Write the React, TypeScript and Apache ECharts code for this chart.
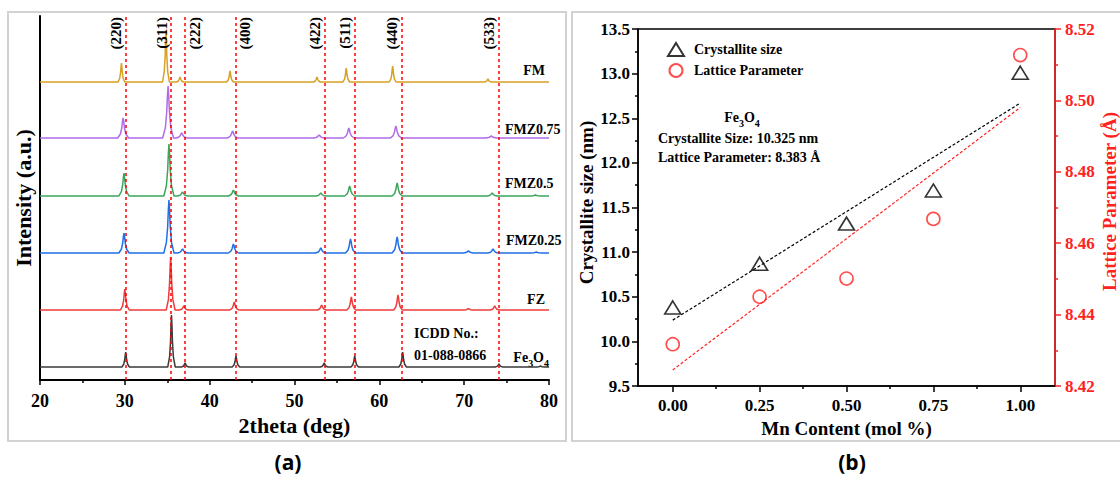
import React, { useEffect, useRef } from "react";
import * as echarts from "echarts";

// ---------- Panel (a): XRD patterns ----------
const SAMPLE_NAMES = ["Fe3O4", "FZ", "FMZ0.25", "FMZ0.5", "FMZ0.75", "FM"];
const SAMPLE_COLORS = ["#3a3a3a", "#ee3b3b", "#1f6fe5", "#3ba55c", "#b06be6", "#d6a125"];
// vertical offsets of each stacked pattern (a.u.)
const SAMPLE_OFFSETS = [13, 70, 127, 184, 242, 298];
// peak [2theta, height]
const PEAKS_FE3O4 = [[30.1, 15], [35.5, 52], [37.1, 4], [43.1, 11], [53.5, 4], [57.1, 11], [62.75, 15], [74.1, 3], [79.0, 1]];
const PEAKS_FZ = [[30.0, 21], [35.4, 53], [36.95, 4], [42.9, 8], [53.2, 5], [56.7, 13], [62.2, 15], [70.5, 1.5], [73.6, 4]];
const PEAKS_FMZ025 = [[29.9, 20], [35.2, 53], [36.8, 4], [42.8, 9], [53.1, 5], [56.6, 14], [62.1, 16], [70.5, 2], [73.4, 4], [78.5, 1]];
const PEAKS_FMZ05 = [[29.9, 23], [35.2, 52], [36.8, 4], [42.8, 6], [53.1, 3], [56.5, 10], [62.1, 13], [73.3, 3], [78.4, 1]];
const PEAKS_FMZ075 = [[29.8, 20], [35.1, 52], [36.7, 5], [42.7, 7], [52.9, 3], [56.4, 10], [61.95, 12], [73.2, 2]];
const PEAKS_FM = [[29.6, 19], [34.85, 52], [36.5, 5], [42.4, 11], [52.65, 5], [56.1, 14], [61.57, 16], [72.8, 3]];
const SAMPLE_PEAKS = [PEAKS_FE3O4, PEAKS_FZ, PEAKS_FMZ025, PEAKS_FMZ05, PEAKS_FMZ075, PEAKS_FM];
const SAMPLE_HWHM = [0.11, 0.13, 0.15, 0.15, 0.16, 0.1];
// reference (ICDD) reflections
const HKL_LABELS = ["(220)", "(311)", "(222)", "(400)", "(422)", "(511)", "(440)", "(533)"];
const HKL_POSITIONS = [30.1, 35.45, 37.1, 43.1, 53.55, 57.05, 62.65, 74.1];
const HKL_LABEL_RIGHT = [false, false, true, true, false, false, false, false];
const TWO_THETA_MIN = 20;
const TWO_THETA_MAX = 80;

// peak profile template (offset in HWHM units, fraction of peak height)
const SHAPE_OFFSETS = [-4, -2, -1, -0.5, 0, 0.5, 1, 2, 4];
const SHAPE_FRACTIONS = [0, 0.2, 0.5, 0.8, 1, 0.8, 0.5, 0.2, 0];

// ---------- Panel (b) ----------
const MN_CONTENT = [0, 0.25, 0.5, 0.75, 1.0];
const CRYSTALLITE_SIZE = [10.38, 10.87, 11.32, 11.69, 13.01];
const LATTICE_PARAM = [8.4317, 8.445, 8.4501, 8.4668, 8.5127];
const X_MAJOR = [0, 0.25, 0.5, 0.75, 1.0];
const X_MINOR = [0.125, 0.375, 0.625, 0.875];

const SERIF = '"Liberation Serif", "Times New Roman", serif';
const SANS = '"Open Sans", "Liberation Sans", sans-serif';

function buildPattern(peaks: number[][], base: number, hw: number) {
  const pts: number[][] = [[TWO_THETA_MIN, base]];
  peaks.forEach(([pos, h]) => {
    SHAPE_OFFSETS.forEach((o, k) => pts.push([pos + o * hw, base + SHAPE_FRACTIONS[k] * h]));
  });
  pts.push([TWO_THETA_MAX, base]);
  return pts;
}

function linFit(xs: number[], ys: number[]) {
  const n = xs.length;
  const mx = xs.reduce((a, b) => a + b, 0) / n;
  const my = ys.reduce((a, b) => a + b, 0) / n;
  let sxy = 0, sxx = 0;
  xs.forEach((x, i) => { sxy += (x - mx) * (ys[i] - my); sxx += (x - mx) * (x - mx); });
  const slope = sxy / sxx;
  const icpt = my - slope * mx;
  return [[xs[0], icpt + slope * xs[0]], [xs[n - 1], icpt + slope * xs[n - 1]]];
}

const subRich = {
  n: { fontSize: 14, fontWeight: "bold", fontFamily: SERIF, lineHeight: 16, verticalAlign: "top", fill: "#000" },
  s: { fontSize: 10, fontWeight: "bold", fontFamily: SERIF, lineHeight: 10, padding: [8, 0, 0, 0], verticalAlign: "top", fill: "#000" },
};

function txt(text: string, x: number, y: number, align: string, extra: any = {}) {
  return {
    type: "text",
    x,
    y,
    silent: true,
    style: {
      text,
      fontFamily: SERIF,
      fontWeight: "bold",
      fontSize: 14,
      fill: "#000",
      align,
      verticalAlign: "middle",
      ...extra,
    },
  };
}

export default function App() {
  const ref = useRef<HTMLDivElement>(null);
  useEffect(() => {
    if (!ref.current) return;
    const chart = echarts.init(ref.current, null, { renderer: "svg" });

    const patternSeries = SAMPLE_NAMES.map((name, i) => {
      const s: any = {
        name,
        type: "line",
        xAxisIndex: 0,
        yAxisIndex: 0,
        showSymbol: false,
        symbol: "none",
        data: buildPattern(SAMPLE_PEAKS[i], SAMPLE_OFFSETS[i], SAMPLE_HWHM[i]),
        lineStyle: { color: SAMPLE_COLORS[i], width: 1.5 },
        itemStyle: { color: SAMPLE_COLORS[i] },
        z: 3,
      };
      if (i === 0) {
        s.markLine = {
          silent: true,
          symbol: ["none", "none"],
          lineStyle: { color: "#ff0000", type: [3, 3], width: 1.5 },
          label: {
            show: true,
            position: "insideEndTop",
            formatter: "{b}",
            color: "#000",
            fontFamily: SERIF,
            fontWeight: "bold",
            fontSize: 15,
            distance: [1, 2],
          },
          data: HKL_POSITIONS.map((p, k) => ({
            xAxis: p,
            name: HKL_LABELS[k],
            label: { position: HKL_LABEL_RIGHT[k] ? "insideEndBottom" : "insideEndTop" },
          })),
        };
      }
      return s;
    });

    const fitSize = linFit(MN_CONTENT, CRYSTALLITE_SIZE);
    const fitLattice = linFit(MN_CONTENT, LATTICE_PARAM);

    const option: any = {
      animation: false,
      backgroundColor: "#fff",
      grid: [
        { left: 40, top: 16, width: 509, height: 364, show: false },
        { left: 638, top: 29, width: 421, height: 357, show: true, borderColor: "#000", borderWidth: 1.5 },
      ],
      legend: {
        orient: "vertical",
        left: 662,
        top: 37,
        itemWidth: 16,
        itemHeight: 13,
        itemGap: 6,
        textStyle: { fontFamily: SERIF, fontWeight: "bold", fontSize: 14, color: "#000", padding: [0, 0, 0, 5] },
        data: [
          { name: "Crystallite size", icon: "triangle" },
          { name: "Lattice Parameter", icon: "circle" },
        ],
      },
      xAxis: [
        {
          gridIndex: 0,
          type: "value",
          min: TWO_THETA_MIN,
          max: TWO_THETA_MAX,
          interval: 10,
          axisLine: { onZero: false, lineStyle: { color: "#000", width: 2 } },
          axisTick: { length: 5, lineStyle: { color: "#000", width: 1.5 } },
          minorTick: { show: true, splitNumber: 2, length: 3, lineStyle: { color: "#000", width: 1.5 } },
          splitLine: { show: false },
          axisLabel: { fontFamily: SERIF, fontWeight: "bold", fontSize: 18, color: "#000", margin: 12 },
          name: "2theta (deg)",
          nameLocation: "middle",
          nameGap: 31,
          nameTextStyle: { fontFamily: SERIF, fontWeight: "bold", fontSize: 22, color: "#000" },
        },
        {
          gridIndex: 1,
          type: "value",
          position: "bottom",
          min: -0.1,
          max: 1.1,
          axisLine: { onZero: false, lineStyle: { color: "#000", width: 1.5 } },
          axisTick: { customValues: X_MAJOR, length: 6, lineStyle: { color: "#000", width: 1.5 } },
          splitLine: { show: false },
          axisLabel: {
            customValues: X_MAJOR,
            formatter: (v: number) => v.toFixed(2),
            fontFamily: SERIF,
            fontWeight: "bold",
            fontSize: 17,
            color: "#000",
            margin: 11,
          },
          name: "Mn Content (mol %)",
          nameLocation: "middle",
          nameGap: 28,
          nameTextStyle: { fontFamily: SERIF, fontWeight: "bold", fontSize: 19, color: "#000" },
        },
        {
          gridIndex: 1,
          type: "value",
          position: "bottom",
          min: -0.1,
          max: 1.1,
          axisLine: { show: false, onZero: false },
          axisTick: { customValues: X_MINOR, length: 3, lineStyle: { color: "#000", width: 1.5 } },
          axisLabel: { show: false },
          splitLine: { show: false },
        },
      ],
      yAxis: [
        {
          gridIndex: 0,
          type: "value",
          min: 0,
          max: 364,
          axisLine: { show: true, onZero: false, lineStyle: { color: "#000", width: 2 } },
          axisTick: { show: false },
          axisLabel: { show: false },
          splitLine: { show: false },
          name: "Intensity (a.u.)",
          nameLocation: "middle",
          nameRotate: 90,
          nameGap: 6,
          nameTextStyle: { fontFamily: SERIF, fontWeight: "bold", fontSize: 22, color: "#000" },
        },
        {
          gridIndex: 1,
          type: "value",
          position: "left",
          min: 9.5,
          max: 13.5,
          interval: 0.5,
          axisLine: { show: true, onZero: false, lineStyle: { color: "#000", width: 1.5 } },
          axisTick: { length: 6, lineStyle: { color: "#000", width: 1.5 } },
          minorTick: { show: true, splitNumber: 2, length: 3, lineStyle: { color: "#000", width: 1.5 } },
          splitLine: { show: false },
          axisLabel: {
            formatter: (v: number) => v.toFixed(1),
            fontFamily: SERIF,
            fontWeight: "bold",
            fontSize: 17,
            color: "#000",
            margin: 8,
          },
          name: "Crystallite size (nm)",
          nameLocation: "middle",
          nameRotate: 90,
          nameGap: 42,
          nameTextStyle: { fontFamily: SERIF, fontWeight: "bold", fontSize: 19, color: "#000", padding: [0, 0, 0, 10] },
        },
        {
          gridIndex: 1,
          type: "value",
          position: "right",
          min: 8.42,
          max: 8.52,
          interval: 0.02,
          axisLine: { show: true, onZero: false, lineStyle: { color: "#ff2020", width: 1.5 } },
          axisTick: { length: 6, lineStyle: { color: "#ff2020", width: 1.5 } },
          minorTick: { show: true, splitNumber: 2, length: 3, lineStyle: { color: "#ff2020", width: 1.5 } },
          splitLine: { show: false },
          axisLabel: {
            formatter: (v: number) => v.toFixed(2),
            fontFamily: SERIF,
            fontWeight: "bold",
            fontSize: 17,
            color: "#ff2020",
            margin: 10,
          },
          name: "Lattice Parameter (Å)",
          nameLocation: "middle",
          nameRotate: 90,
          nameGap: 45,
          nameTextStyle: { fontFamily: SERIF, fontWeight: "bold", fontSize: 19, color: "#ff2020", padding: [0, 0, 0, 12] },
        },
      ],
      series: [
        ...patternSeries,
        {
          name: "fitSize",
          type: "line",
          xAxisIndex: 1,
          yAxisIndex: 1,
          showSymbol: false,
          symbol: "none",
          data: fitSize,
          lineStyle: { color: "#000", width: 1.2, type: [3, 2] },
          z: 2,
        },
        {
          name: "fitLattice",
          type: "line",
          xAxisIndex: 1,
          yAxisIndex: 2,
          showSymbol: false,
          symbol: "none",
          data: fitLattice,
          lineStyle: { color: "#ff2020", width: 1.2, type: [3, 2] },
          z: 2,
        },
        {
          name: "Crystallite size",
          type: "scatter",
          xAxisIndex: 1,
          yAxisIndex: 1,
          symbol: "triangle",
          symbolSize: [16, 13],
          data: MN_CONTENT.map((x, i) => [x, CRYSTALLITE_SIZE[i]]),
          itemStyle: { color: "rgba(255,255,255,0)", borderColor: "#000", borderWidth: 1.6 },
          z: 4,
        },
        {
          name: "Lattice Parameter",
          type: "scatter",
          xAxisIndex: 1,
          yAxisIndex: 2,
          symbol: "circle",
          symbolSize: 13,
          data: MN_CONTENT.map((x, i) => [x, LATTICE_PARAM[i]]),
          itemStyle: { color: "rgba(255,255,255,0)", borderColor: "#ff2020", borderWidth: 1.6 },
          z: 4,
        },
      ],
      graphic: [
        { type: "rect", silent: true, shape: { x: 8, y: 12, width: 558, height: 429 }, style: { fill: "none", stroke: "#d2d2d2", lineWidth: 2 } },
        { type: "rect", silent: true, shape: { x: 572, y: 12, width: 560, height: 429 }, style: { fill: "none", stroke: "#d2d2d2", lineWidth: 2 } },
        txt("FM", 545, 70, "right"),
        txt("FMZ0.75", 505, 129, "left"),
        txt("FMZ0.5", 505, 183, "left"),
        txt("FMZ0.25", 506, 240, "left"),
        txt("FZ", 545, 299, "right"),
        txt("{n|Fe}{s|3}{n|O}{s|4}", 549, 358, "right", { rich: subRich }),
        txt("ICDD No.:", 414, 333, "left"),
        txt("01-088-0866", 414, 355, "left"),
        txt("{n|Fe}{s|3}{n|O}{s|4}", 742, 118, "center", { rich: subRich }),
        txt("Crystallite Size: 10.325 nm", 658, 138, "left"),
        txt("Lattice Parameter: 8.383 Å", 658, 157, "left"),
        txt("(a)", 288, 462, "center", { fontFamily: SANS, fontSize: 21 }),
        txt("(b)", 852, 462, "center", { fontFamily: SANS, fontSize: 21 }),
      ],
    };

    chart.setOption(option);
    return () => chart.dispose();
  }, []);

  return (
    <div
      ref={ref}
      style={{ position: "fixed", left: 0, top: 0, width: 1120, height: 477, background: "#fff" }}
    />
  );
}
